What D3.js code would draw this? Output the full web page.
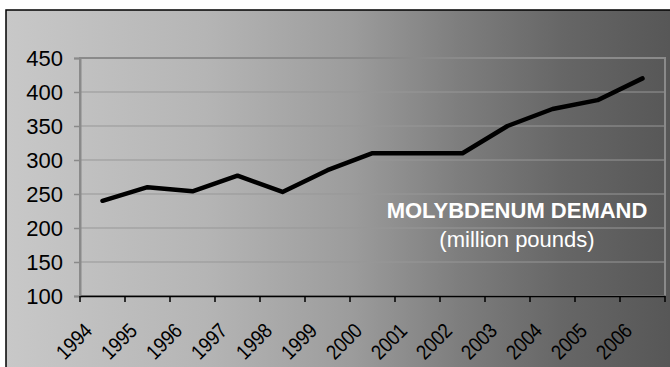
<!DOCTYPE html>
<html><head><meta charset="utf-8">
<script src="https://cdn.jsdelivr.net/npm/d3@7"></script>
<style>body{margin:0;background:#fff}svg{display:block}</style>
</head><body>
<svg id="c" width="670" height="367"></svg>
<script>
const years = ["1994","1995","1996","1997","1998","1999","2000","2001","2002","2003","2004","2005","2006"];
const demand = [240,260,254,277,253,285,310,310,310,350,375,388,420];
const yTicks = [100,150,200,250,300,350,400,450];
const titleLines = ["MOLYBDENUM DEMAND","(million pounds)"];

const svg = d3.select("#c");
const m = {left:80, right:665, top:58, bottom:296};
const font = "'Liberation Sans', Arial, sans-serif";

const defs = svg.append("defs");
const g = defs.append("linearGradient").attr("id","bg").attr("gradientUnits","userSpaceOnUse")
  .attr("x1",6).attr("y1",0).attr("x2",670).attr("y2",0);
[[0,"#c8c8c8"],[0.3,"#b5b5b5"],[0.52,"#9c9c9c"],[0.68,"#7e7e7e"],[0.84,"#666666"],[1,"#575757"]]
  .forEach(([o,c])=>g.append("stop").attr("offset",o).attr("stop-color",c));

svg.append("rect").attr("x",6).attr("y",10).attr("width",700).attr("height",400)
  .attr("fill","url(#bg)").attr("stroke","#000").attr("stroke-width",1.5);

const x = d3.scaleBand().domain(years).range([m.left,m.right]).padding(0);
const y = d3.scaleLinear().domain([100,450]).range([m.bottom,m.top]);

// gridlines
svg.append("g").selectAll("line").data(yTicks.filter(t=>t>100 && t<450)).join("line")
  .attr("x1",m.left).attr("x2",m.right).attr("y1",d=>y(d)).attr("y2",d=>y(d))
  .attr("stroke","#979797").attr("stroke-width",1);

// plot border
svg.append("rect").attr("x",m.left).attr("y",m.top).attr("width",m.right-m.left).attr("height",m.bottom-m.top)
  .attr("fill","none").attr("stroke","#8a8a8a").attr("stroke-width",2);

// y axis
const ya = svg.append("g").attr("transform",`translate(${m.left},0)`)
  .call(d3.axisLeft(y).tickValues(yTicks).tickSize(6).tickPadding(11));
ya.select(".domain").attr("stroke","#8a8a8a").attr("stroke-width",2);
ya.selectAll(".tick line").attr("stroke","#8a8a8a").attr("stroke-width",1.5);
ya.selectAll("text").attr("font-family",font).attr("font-size",22).attr("fill","#000");

// x axis
const xa = svg.append("g").attr("transform",`translate(0,${m.bottom})`)
  .call(d3.axisBottom(x).tickSize(0).tickFormat(""));
xa.select(".domain").attr("stroke","#000").attr("stroke-width",1.5);
svg.append("g").selectAll("line").data(years.concat(["end"])).join("line")
  .attr("x1",(d,i)=> i<years.length ? x(d) : m.right)
  .attr("x2",(d,i)=> i<years.length ? x(d) : m.right)
  .attr("y1",m.bottom).attr("y2",m.bottom+6).attr("stroke","#000").attr("stroke-width",1.5);
svg.append("g").selectAll("text").data(years).join("text")
  .attr("transform",d=>`translate(${x(d)+x.bandwidth()/2-9},${m.bottom+36}) rotate(-45) scale(0.87,1)`)
  .attr("text-anchor","end")
  .attr("font-family",font).attr("font-size",21).attr("fill","#000").text(d=>d);

// line
const line = d3.line().x((d,i)=>x(years[i])+x.bandwidth()/2).y(d=>y(d));
svg.append("path").datum(demand).attr("d",line).attr("fill","none")
  .attr("stroke","#000").attr("stroke-width",4.5).attr("stroke-linejoin","round").attr("stroke-linecap","round");

// title
svg.append("text").attr("x",517).attr("y",218).attr("text-anchor","middle")
  .attr("font-family",font).attr("font-size",22).attr("font-weight","bold").attr("fill","#fff").text(titleLines[0]);
svg.append("text").attr("x",517).attr("y",247).attr("text-anchor","middle")
  .attr("font-family",font).attr("font-size",22).attr("fill","#fff").text(titleLines[1]);
</script>
</body></html>
